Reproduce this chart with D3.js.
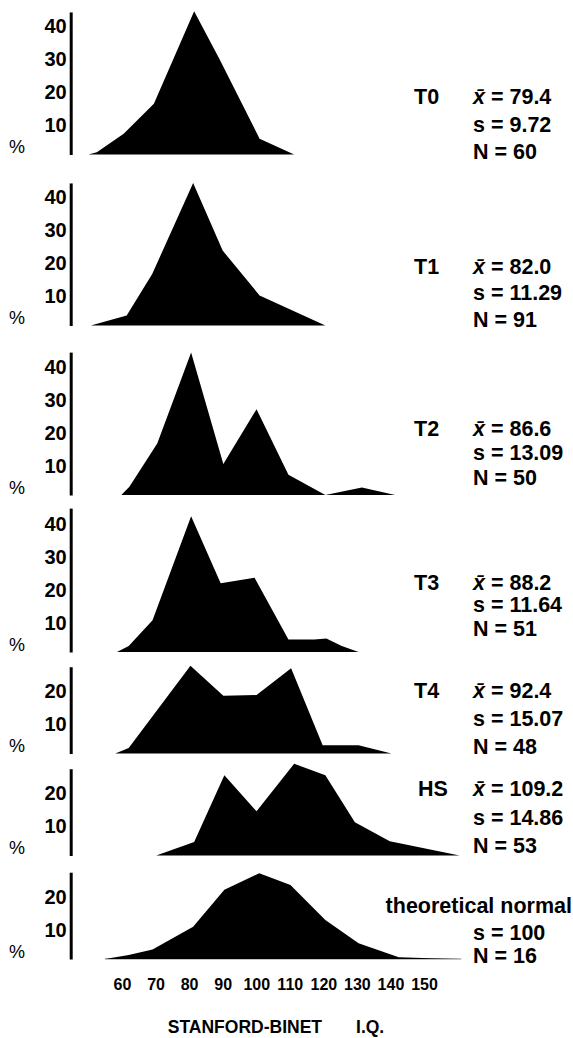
<!DOCTYPE html>
<html><head><meta charset="utf-8">
<script src="https://cdn.jsdelivr.net/npm/d3@7"></script>
<style>
body{margin:0;background:#fff}
svg text{font-family:"Liberation Sans",Arial,Helvetica,sans-serif;fill:#000}
</style>
</head><body><svg id="c" width="573" height="1038"></svg>
<script>
// ---------- data ----------
const panelNames = ["T0","T1","T2","T3","T4","HS","theoretical normal"];
const meanLabels = ["79.4","82.0","86.6","88.2","92.4","109.2",null];
const sdLabels   = ["9.72","11.29","13.09","11.64","15.07","14.86","100"];
const nLabels    = ["60","91","50","51","48","53","16"];

const iqT0  = [50, 52.5, 60.5, 69.5, 81.5, 89, 101, 111.3];
const pctT0 = [0, 0.7, 6.3, 15.4, 43.4, 29, 4.8, 0];
const iqT1  = [50.7, 61.4, 69, 81.2, 90, 101, 120.6];
const pctT1 = [0, 3.0, 15.6, 43.2, 22.7, 9.1, 0];
const iqT2  = [59.8, 62.2, 70.5, 80.6, 90.2, 100.1, 109.6, 120.6, 131.5, 141.4];
const pctT2 = [0, 2.5, 15.6, 43.2, 9.4, 26, 6.1, 0, 2.3, 0];
const iqT3  = [58.5, 62, 69.1, 80.6, 89.4, 99.5, 109.6, 117.3, 120.9, 125.5, 130.5];
const pctT3 = [0, 1.8, 9.6, 41.1, 20.8, 22.5, 3.8, 3.8, 4.1, 1.8, 0];
const iqT4  = [58, 62, 80.4, 90.2, 100.1, 110.4, 119.8, 130.5, 140.3];
const pctT4 = [0, 1.7, 26.6, 17.5, 17.7, 25.8, 2.5, 2.5, 0];
const iqHS  = [70.2, 81.5, 90.5, 100.1, 111.3, 120.6, 129.4, 139.8, 160.6];
const pctHS = [0, 4.1, 24.3, 13.4, 27.8, 24.3, 10.1, 4.3, 0];
const iqNorm  = [54.9, 62, 69.1, 81.2, 90.5, 100.9, 110.2, 120.6, 130.5, 142.5, 151.8, 161.1];
const pctNorm = [0, 1.2, 2.9, 9.8, 21, 26, 22.4, 11.8, 4.8, 0.5, 0.2, 0];

const seriesIQ  = [iqT0, iqT1, iqT2, iqT3, iqT4, iqHS, iqNorm];
const seriesPct = [pctT0, pctT1, pctT2, pctT3, pctT4, pctHS, pctNorm];

const xTickValues = [60, 70, 80, 90, 100, 110, 120, 130, 140, 150];
const yTicksTall  = [10, 20, 30, 40];
const yTicksShort = [10, 20];
const axisTops    = [43.2, 43.2, 43.3, 43.6, 26.3, 26.3, 26.3];
const xTitle = "STANFORD-BINET\u00a0\u00a0\u00a0\u00a0\u00a0\u00a0\u00a0I.Q.";

// ---------- layout ----------
const baselines = [154.5, 325.5, 495, 652, 753.5, 855.5, 959];
const pxPerPct = 3.3;
const textRows = [[96,124,151],[266,292,319],[428,452,477],[582,604,628],[690,718,746],[788,817,845],[905,932,955]];
const axisX = 70.7;
const statFont = 21.5;

const svg = d3.select("#c");
const x = d3.scaleLinear().domain([60,150]).range([122,424]);

seriesIQ.forEach((iqs, i) => {
  const b = baselines[i];
  const top = axisTops[i];
  const y = d3.scaleLinear().domain([0, top]).range([b, b - top*pxPerPct]);
  const g = svg.append("g");
  const pts = iqs.map((v,k)=>({iq:v, p:seriesPct[i][k]}));
  const area = d3.area().x(d=>x(d.iq)).y0(y(0)).y1(d=>y(d.p));
  if (i === 6) {
    g.append("line").attr("x1", x(iqs[0])).attr("x2", x(iqs[iqs.length-1]))
      .attr("y1", y(0)).attr("y2", y(0)).attr("stroke","#888").attr("stroke-width",1);
  }
  g.append("path").datum(pts).attr("d", area).attr("fill","#000");

  const ax = d3.axisLeft(y).tickValues(top > 30 ? yTicksTall : yTicksShort)
    .tickSize(0).tickSizeOuter(0).tickPadding(4);
  const ag = g.append("g").attr("transform",`translate(${axisX},0)`).call(ax);
  ag.select(".domain").attr("stroke","#000").attr("stroke-width",3);
  ag.selectAll("text").attr("font-size",20).attr("font-weight","bold")
    .attr("font-family",'"Liberation Sans",Arial,sans-serif').attr("dy","0.5em");
  g.append("text").attr("x",9).attr("y", b - 1.5).attr("font-size",18).text("%");

  const rows = textRows[i];
  const tx = i === 5 ? 418 : 414;
  if (i < 6) {
    g.append("text").attr("x", tx).attr("y", rows[0]).attr("dy","0.36em")
      .attr("font-size",statFont).attr("font-weight","bold").text(panelNames[i]);
    const t = g.append("text").attr("x",473).attr("y",rows[0]).attr("dy","0.36em")
      .attr("font-size",statFont).attr("font-weight","bold");
    t.append("tspan").attr("font-style","italic").text("x\u0304");
    t.append("tspan").text(" = " + meanLabels[i]);
  } else {
    g.append("text").attr("x",572).attr("y", rows[0]).attr("dy","0.36em").attr("text-anchor","end")
      .attr("font-size",statFont).attr("font-weight","bold").text(panelNames[i]);
  }
  g.append("text").attr("x",473).attr("y",rows[1]).attr("dy","0.36em")
    .attr("font-size",statFont).attr("font-weight","bold").text("s = " + sdLabels[i]);
  g.append("text").attr("x",473).attr("y",rows[2]).attr("dy","0.36em")
    .attr("font-size",statFont).attr("font-weight","bold").text("N = " + nLabels[i]);
});

const xa = svg.append("g").attr("transform","translate(0,975)")
  .call(d3.axisBottom(x).tickValues(xTickValues).tickSize(0).tickPadding(4));
xa.select(".domain").remove();
xa.selectAll("text").attr("font-size",16).attr("font-weight","bold")
  .attr("font-family",'"Liberation Sans",Arial,sans-serif');

svg.append("text").attr("x",276).attr("y",1033).attr("text-anchor","middle")
  .attr("font-size",17.5).attr("font-weight","bold").text(xTitle);
</script>
</body></html>
